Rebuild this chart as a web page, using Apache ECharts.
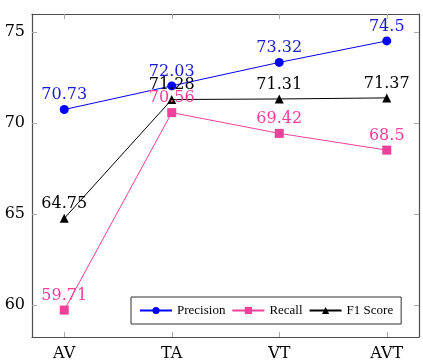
<!DOCTYPE html>
<html>
<head>
<meta charset="utf-8">
<script src="https://cdn.jsdelivr.net/npm/echarts@6/dist/echarts.min.js"></script>
<style>html,body{margin:0;padding:0;background:#fff}#chart{width:423px;height:364px}</style>
</head>
<body>
<div id="chart"></div>
<script>
var categories = ["AV", "TA", "VT", "AVT"];
var precision = [70.73, 72.03, 73.32, 74.5];
var recall = [59.71, 70.56, 69.42, 68.5];
var f1 = [64.75, 71.28, 71.31, 71.37];
var yTicks = [60, 65, 70, 75];

function pts(arr) {
    return arr.map(function (v, i) { return [i, v]; });
}

var serif = "DejaVu Serif";
var frame = {show: true, onZero: false, lineStyle: {color: "#4d4d4d", width: 1.2}};
var tick = {show: true, inside: true, length: 5, lineStyle: {color: "#aaa", width: 1}};
var xIdx = categories.map(function (c, i) { return i; });

var chart = echarts.init(document.getElementById('chart'), null, {renderer: 'canvas'});
var option = {
    animation: false,
    grid: {left: 32, right: 4, top: 14, bottom: 27},
    xAxis: [
        {
            type: "value", min: -0.3, max: 3.3, position: "bottom",
            axisLine: frame, splitLine: {show: false},
            axisTick: Object.assign({customValues: xIdx}, tick),
            axisLabel: {customValues: xIdx, fontFamily: serif, fontSize: 16, color: "#000", margin: 9,
                formatter: function (v) { return categories[Math.round(v)]; }}
        },
        {
            type: "value", min: -0.3, max: 3.3, position: "top",
            axisLine: frame, splitLine: {show: false},
            axisTick: Object.assign({customValues: xIdx}, tick),
            axisLabel: {show: false}
        }
    ],
    yAxis: [
        {
            type: "value", min: 58.23, max: 75.98, position: "left",
            axisLine: frame, splitLine: {show: false},
            axisTick: Object.assign({customValues: yTicks}, tick),
            axisLabel: {customValues: yTicks, fontFamily: serif, fontSize: 16, color: "#000", margin: 7}
        },
        {
            type: "value", min: 58.23, max: 75.98, position: "right",
            axisLine: frame, splitLine: {show: false},
            axisTick: Object.assign({customValues: yTicks}, tick),
            axisLabel: {show: false}
        }
    ],
    legend: {
        left: 131, top: 297, width: 277, height: 30,
        padding: [7, 8, 7, 8],
        itemGap: 6, itemWidth: 32, itemHeight: 9,
        backgroundColor: "#fff", borderColor: "#333", borderWidth: 1,
        textStyle: {fontFamily: "Liberation Serif", fontSize: 13, color: "#000"},
        data: ["Precision", "Recall", "F1 Score"]
    },
    series: [
        {
            name: "Precision", type: "line", data: pts(precision),
            symbol: "circle", symbolSize: 9, color: "#0000ff",
            lineStyle: {width: 1, color: "#0000ff"},
            label: {show: true, position: "top", distance: 2, fontFamily: serif, fontSize: 16, color: "#1a1acc"}
        },
        {
            name: "Recall", type: "line", data: pts(recall),
            symbol: "rect", symbolSize: 9, color: "#f0409a",
            lineStyle: {width: 1, color: "#f0409a"},
            label: {show: true, position: "top", distance: 2, fontFamily: serif, fontSize: 16, color: "#f0409a"}
        },
        {
            name: "F1 Score", type: "line", data: pts(f1),
            symbol: "triangle", symbolSize: 9, color: "#000",
            lineStyle: {width: 1, color: "#000"},
            label: {show: true, position: "top", distance: 2, fontFamily: serif, fontSize: 16, color: "#000"}
        }
    ]
};
chart.setOption(option);
</script>
</body>
</html>
